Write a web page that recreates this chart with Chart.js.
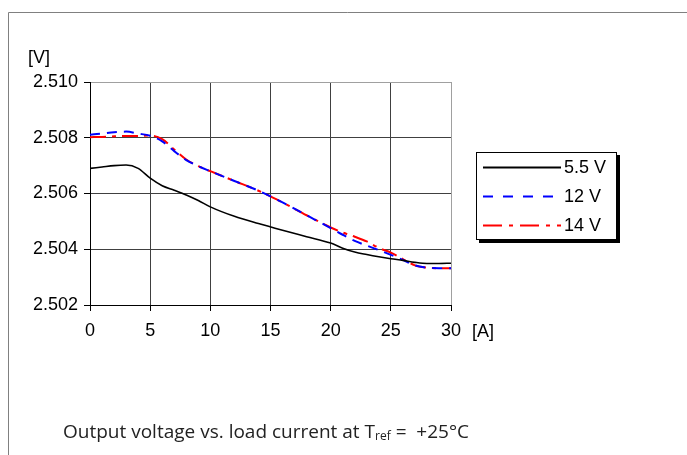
<!DOCTYPE html>
<html>
<head>
<meta charset="utf-8">
<script src="https://cdn.jsdelivr.net/npm/chart.js@4.4.1/dist/chart.umd.min.js"></script>
<style>
html,body{margin:0;padding:0;background:#fff;}
#wrap{position:relative;width:687px;height:455px;}
canvas{position:absolute;left:0;top:0;}
</style>
</head>
<body>
<div id="wrap"><canvas id="c" width="687" height="455"></canvas></div>
<script>
const currents = [0,1,2,3,4,5,6,7,8,9,10,12,14,16,18,20,21,22,23,24,25,26,27,28,29,30];
const v55 = [2.5069,2.50695,2.5070,2.50702,2.5069,2.50655,2.50628,2.50612,2.50595,2.50575,2.50552,2.50518,2.50492,2.50468,2.50445,2.50422,2.50404,2.50390,2.50381,2.50373,2.50366,2.50360,2.50353,2.50349,2.50349,2.50350];
const v12 = [2.50811,2.50815,2.50820,2.50822,2.50815,2.50807,2.50787,2.50752,2.50720,2.50698,2.50680,2.50645,2.50610,2.50568,2.50522,2.50476,2.50452,2.50430,2.50413,2.50397,2.50380,2.50362,2.50342,2.50334,2.50332,2.50332];
const v14 = [2.50802,2.50803,2.50805,2.50806,2.50806,2.50808,2.50795,2.50758,2.50722,2.50698,2.50680,2.50645,2.50610,2.50568,2.50522,2.50478,2.50460,2.50445,2.50428,2.50405,2.50388,2.50365,2.50342,2.50334,2.50332,2.50332];
const seriesLabels = ['5.5 V','12 V','14 V'];
const xTicks = [0,5,10,15,20,25,30];
const yTicks = [2.502,2.504,2.506,2.508,2.510];

const toPts = arr => arr.map((v,i)=>({x:currents[i], y:v}));
const FONT = '"Liberation Sans", Arial, sans-serif';
const CAPFONT = '"Open Sans", "Noto Sans", sans-serif';

const decor = {
  id:'decor',
  beforeDraw(chart){
    const c = chart.ctx;
    c.save();
    c.fillStyle='#fff'; c.fillRect(0,0,chart.width,chart.height);
    c.strokeStyle='#808080'; c.lineWidth=1;
    c.beginPath();
    c.moveTo(8.5,455); c.lineTo(8.5,12.5); c.lineTo(687,12.5);
    c.stroke();
    c.restore();
  },
  afterDraw(chart){
    const c = chart.ctx;
    c.save();
    c.fillStyle='#000';
    c.font = '18px '+FONT;
    c.textBaseline='alphabetic';
    c.textAlign='left';
    c.fillText('[V]', 28, 63);
    c.fillText('[A]', 472, 337);
    // legend
    const bx=476, by=152, bw=141, bh=88;
    c.fillStyle='#000';
    c.fillRect(bx+3, by+3, bw, bh);
    c.fillStyle='#fff';
    c.fillRect(bx, by, bw, bh);
    c.strokeStyle='#000'; c.lineWidth=1;
    c.strokeRect(bx+0.5, by+0.5, bw-1, bh-1);
    const rows=[167.5,196.5,225.5];
    chart.data.datasets.forEach((ds,i)=>{
      c.save();
      c.strokeStyle=ds.borderColor; c.lineWidth=2;
      c.setLineDash(ds.legendDash||[]);
      c.beginPath(); c.moveTo(483,rows[i]); c.lineTo(561,rows[i]); c.stroke();
      c.restore();
      c.fillStyle='#000';
      c.font='18px '+FONT;
      c.textBaseline='middle';
      c.fillText(ds.label, 564, rows[i]+1);
    });
    // caption
    c.fillStyle='#222';
    c.textBaseline='alphabetic';
    c.font='19px '+CAPFONT;
    let x=63, y=438;
    const s1='Output voltage vs. load current at T';
    c.fillText(s1,x,y); x+=c.measureText(s1).width;
    c.font='12px '+CAPFONT;
    c.fillText('ref',x,y+2); x+=c.measureText('ref').width;
    c.font='19px '+CAPFONT;
    c.fillText(' =  +25°C',x,y);
    c.restore();
  }
};

new Chart(document.getElementById('c'), {
  type:'line',
  data:{
    datasets:[
      {label:seriesLabels[0], data:toPts(v55), borderColor:'#000', borderWidth:1.6, pointRadius:0, cubicInterpolationMode:'monotone', fill:false, legendDash:[]},
      {label:seriesLabels[1], data:toPts(v12), borderColor:'#0000ff', borderWidth:2, borderDash:[10,7], pointRadius:0, cubicInterpolationMode:'monotone', fill:false, legendDash:[10,10]},
      {label:seriesLabels[2], data:toPts(v14), borderColor:'#ff0000', borderWidth:2, borderDash:[16,6,4,6], pointRadius:0, cubicInterpolationMode:'monotone', fill:false, legendDash:[19,7,4,7]}
    ]
  },
  options:{
    responsive:false, animation:false, devicePixelRatio:1,
    layout:{padding:{left:0, top:82, right:236, bottom:110}},
    plugins:{legend:{display:false}, tooltip:{enabled:false}},
    scales:{
      x:{
        type:'linear', min:0, max:30,
        afterBuildTicks(s){ s.ticks = xTicks.map(v=>({value:v})); },
        afterFit(s){ s.height = 40; },
        grid:{color:ctx=>ctx.tick && ctx.tick.value===30 ? '#a0a0a0' : '#404040', tickColor:'#000', tickLength:6, lineWidth:1},
        border:{color:'#000', width:1},
        ticks:{color:'#000', font:{family:FONT, size:18}, padding:9, maxRotation:0, callback:v=>String(v)}
      },
      y:{
        min:2.502, max:2.510,
        afterBuildTicks(s){ s.ticks = yTicks.map(v=>({value:v})); },
        afterFit(s){ s.width = 90; },
        grid:{color:ctx=>ctx.tick && Math.abs(ctx.tick.value-2.510)<1e-9 ? '#a0a0a0' : '#404040', tickColor:'#000', tickLength:6, lineWidth:1},
        border:{color:'#000', width:1},
        ticks:{color:'#000', font:{family:FONT, size:18}, padding:6, callback:v=>Number(v).toFixed(3)}
      }
    }
  },
  plugins:[decor]
});
</script>
</body>
</html>
